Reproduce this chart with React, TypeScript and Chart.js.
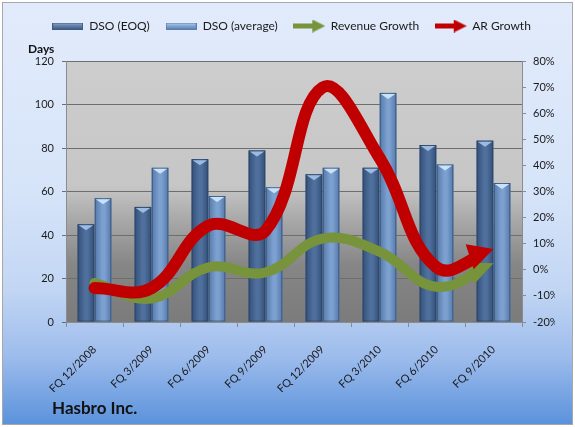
import React, { useEffect, useRef } from "react";
import { Chart, registerables } from "chart.js";

Chart.register(...registerables);

const categories = [
  "FQ 12/2008",
  "FQ 3/2009",
  "FQ 6/2009",
  "FQ 9/2009",
  "FQ 12/2009",
  "FQ 3/2010",
  "FQ 6/2010",
  "FQ 9/2010",
];
const dsoEOQ = [45, 53, 75, 79, 68, 71, 81.5, 83.5];
const dsoAverage = [57, 71, 58, 62, 71, 105.5, 72.5, 64];
const revenueGrowth = [-5, -11, 1, -1, 12, 7, -6.5, 2.5];
const arGrowth = [-7, -7, 17, 15, 70, 43, 1, 8];

const seriesLabels = ["DSO (EOQ)", "DSO (average)", "Revenue Growth", "AR Growth"];
const leftTitle = "Days";
const companyName = "Hasbro Inc.";

const FONT = "Lato, 'Open Sans', sans-serif";
const RED = "#c00000";
const GREEN = "#77933c";

function makeBarIcon(edge: string, mid: string, light: string) {
  const c = document.createElement("canvas");
  c.width = 31;
  c.height = 7;
  const g = c.getContext("2d")!;
  const gr = g.createLinearGradient(0, 0, 0, 7);
  gr.addColorStop(0, light);
  gr.addColorStop(0.35, mid);
  gr.addColorStop(1, edge);
  g.fillStyle = gr;
  g.fillRect(0, 0, 31, 7);
  g.strokeStyle = edge;
  g.lineWidth = 1;
  g.strokeRect(0.5, 0.5, 30, 6);
  return c;
}

function makeArrowIcon(color: string) {
  const c = document.createElement("canvas");
  c.width = 32;
  c.height = 13;
  const g = c.getContext("2d")!;
  g.fillStyle = color;
  g.fillRect(0, 4, 21, 5);
  g.beginPath();
  g.moveTo(19, 0);
  g.lineTo(32, 6.5);
  g.lineTo(19, 13);
  g.closePath();
  g.fill();
  return c;
}

const barStyles: Record<number, { edge: string; mid: string; cap: string }> = {
  0: { edge: "#334f78", mid: "#4f709d", cap: "#9dbbe0" },
  1: { edge: "#5479aa", mid: "#7ca1d0", cap: "#c8e2f8" },
};

const plotBackground = {
  id: "plotBackground",
  beforeDraw(chart: any) {
    const { ctx, chartArea: a } = chart;
    const gr = ctx.createLinearGradient(0, a.top, 0, a.bottom);
    gr.addColorStop(0, "#cdcdcd");
    gr.addColorStop(0.48, "#c6c6c6");
    gr.addColorStop(0.6, "#aaaaaa");
    gr.addColorStop(0.78, "#868686");
    gr.addColorStop(1, "#7b7b7b");
    ctx.save();
    ctx.fillStyle = gr;
    ctx.fillRect(a.left, a.top, a.right - a.left, a.bottom - a.top);
    ctx.restore();
  },
};

const barShading = {
  id: "barShading",
  afterDatasetDraw(chart: any, args: any) {
    const st = barStyles[args.index];
    if (!st) return;
    const ctx = chart.ctx;
    ctx.save();
    for (const el of args.meta.data) {
      const { x, y, base, width } = el.getProps(["x", "y", "base", "width"], true);
      const l = x - width / 2;
      const r = x + width / 2;
      const gr = ctx.createLinearGradient(l, 0, r, 0);
      gr.addColorStop(0, st.edge);
      gr.addColorStop(0.45, st.mid);
      gr.addColorStop(0.6, st.mid);
      gr.addColorStop(1, st.edge);
      ctx.fillStyle = gr;
      ctx.fillRect(l, y, width, base - y);
      ctx.strokeStyle = "rgba(40,60,90,0.55)";
      ctx.lineWidth = 1;
      ctx.strokeRect(l + 0.5, y + 0.5, width - 1, base - y - 1);
      ctx.beginPath();
      ctx.moveTo(l + 1, y + 1);
      ctx.lineTo(r - 1, y + 1);
      ctx.lineTo(x, y + 6);
      ctx.closePath();
      ctx.fillStyle = st.cap;
      ctx.fill();
    }
    ctx.restore();
  },
};

const ARROW_LEN = 25;

function arrowDir(pts: any[]) {
  const p = pts[pts.length - 1];
  const q = pts[pts.length - 2];
  let dx = p.x - (p.cp1x ?? q.x);
  let dy = p.y - (p.cp1y ?? q.y);
  if (Math.abs(dx) + Math.abs(dy) < 0.01) {
    dx = p.x - q.x;
    dy = p.y - q.y;
  }
  const len = Math.hypot(dx, dy) || 1;
  return { p, ux: dx / len, uy: dy / len };
}

const arrowHeads = {
  id: "arrowHeads",
  beforeDatasetDraw(chart: any, args: any) {
    const ds = chart.data.datasets[args.index];
    if (ds.type !== "line") return;
    const { p, ux } = arrowDir(args.meta.data);
    const cut = p.x - ux * (ARROW_LEN * 0.55);
    const ctx = chart.ctx;
    ctx.save();
    ctx.beginPath();
    ctx.rect(0, 0, cut, chart.height);
    ctx.clip();
  },
  afterDatasetDraw(chart: any, args: any) {
    const ds = chart.data.datasets[args.index];
    if (ds.type !== "line") return;
    const ctx = chart.ctx;
    ctx.restore();
    const { p, ux, uy } = arrowDir(args.meta.data);
    const W = ds.borderWidth * 1.6 + 7;
    const tipX = p.x;
    const tipY = p.y;
    const bx = tipX - ux * ARROW_LEN;
    const by = tipY - uy * ARROW_LEN;
    ctx.save();
    ctx.fillStyle = ds.borderColor;
    ctx.beginPath();
    ctx.moveTo(tipX, tipY);
    ctx.lineTo(bx - (uy * W) / 2, by + (ux * W) / 2);
    ctx.lineTo(bx + (uy * W) / 2, by - (ux * W) / 2);
    ctx.closePath();
    ctx.fill();
    ctx.restore();
  },
};

export default function App() {
  const ref = useRef<HTMLCanvasElement>(null);

  useEffect(() => {
    const canvas = ref.current!;
    const icons = [
      makeBarIcon("#3c5b86", "#6d89b1", "#a9c0dd"),
      makeBarIcon("#5a7fb0", "#8fb0da", "#d3e6f8"),
      makeArrowIcon(GREEN),
      makeArrowIcon(RED),
    ];
    const tickFont = { family: FONT, size: 11 };
    const chart = new Chart(canvas, {
      data: {
        labels: categories,
        datasets: [
          {
            type: "bar",
            label: seriesLabels[0],
            data: dsoEOQ,
            backgroundColor: "#46668f",
            yAxisID: "y",
            order: 5,
            barPercentage: 0.97,
            categoryPercentage: 0.6,
          },
          {
            type: "bar",
            label: seriesLabels[1],
            data: dsoAverage,
            backgroundColor: "#6a8fbe",
            yAxisID: "y",
            order: 6,
            barPercentage: 0.97,
            categoryPercentage: 0.6,
          },
          {
            type: "line",
            label: seriesLabels[2],
            data: revenueGrowth,
            borderColor: GREEN,
            backgroundColor: GREEN,
            borderWidth: 10,
            tension: 0.4,
            pointRadius: 0,
            borderCapStyle: "round",
            borderJoinStyle: "round",
            yAxisID: "y1",
            order: 2,
            clip: false as any,
          },
          {
            type: "line",
            label: seriesLabels[3],
            data: arGrowth,
            borderColor: RED,
            backgroundColor: RED,
            borderWidth: 12,
            tension: 0.4,
            pointRadius: 0,
            borderCapStyle: "round",
            borderJoinStyle: "round",
            yAxisID: "y1",
            order: 1,
            clip: false as any,
          },
        ] as any,
      },
      options: {
        responsive: false,
        animation: false,
        layout: { padding: { left: 28, right: 20, top: 4, bottom: 35 } },
        plugins: {
          legend: {
            position: "top",
            labels: {
              usePointStyle: true,
              pointStyleWidth: 31,
              padding: 16,
              color: "#1a1a1a",
              font: { family: FONT, size: 12 },
              generateLabels: (ch: any) =>
                ch.data.datasets.map((d: any, i: number) => ({
                  text: d.label,
                  pointStyle: icons[i],
                  fillStyle: "rgba(0,0,0,0)",
                  strokeStyle: "rgba(0,0,0,0)",
                  lineWidth: 0,
                  hidden: false,
                  datasetIndex: i,
                  fontColor: "#1a1a1a",
                })),
            },
          },
          title: {
            display: true,
            text: leftTitle,
            align: "start",
            weight: 500,
            color: "#111",
            font: { family: FONT, size: 12, weight: "bold" },
            padding: { top: 0, bottom: 5 },
          } as any,
          tooltip: { enabled: false },
        },
        scales: {
          x: {
            offset: true,
            grid: {
              display: true,
              drawOnChartArea: false,
              drawTicks: true,
              tickLength: 5,
              color: "#8c8c8c",
              offset: true,
            },
            border: { display: true, color: "#8c8c8c" },
            ticks: {
              font: tickFont,
              color: "#1a1a1a",
              minRotation: 45,
              maxRotation: 45,
              autoSkip: false,
              padding: 16,
            },
            afterFit: (s: any) => {
              s.height = 70;
            },
          },
          y: {
            position: "left",
            min: 0,
            max: 120,
            ticks: { stepSize: 20, font: tickFont, color: "#1a1a1a", padding: 8 },
            grid: { color: "#6e6e6e", tickLength: 4, drawTicks: true },
            border: { color: "#8c8c8c" },
            afterFit: (s: any) => {
              s.width = 38;
            },
          },
          y1: {
            position: "right",
            min: -20,
            max: 80,
            ticks: {
              stepSize: 10,
              font: tickFont,
              color: "#1a1a1a",
              padding: 7,
              callback: (v: any) => v + "%",
            },
            grid: { drawOnChartArea: false, tickLength: 4, color: "#8c8c8c" },
            border: { color: "#8c8c8c" },
            afterFit: (s: any) => {
              s.width = 33;
            },
          },
        },
      } as any,
      plugins: [plotBackground, barShading, arrowHeads],
    });
    return () => chart.destroy();
  }, []);

  return (
    <div
      style={{
        position: "fixed",
        left: 0,
        top: 0,
        width: 575,
        height: 427,
        background: "#ffffff",
        overflow: "hidden",
      }}
    >
      <div
        style={{
          position: "absolute",
          left: 2,
          top: 2,
          width: 569,
          height: 421,
          border: "1px solid #a8a8a8",
          background:
            "linear-gradient(to bottom, #e2ebfb 0%, #d6e4f9 45%, #c2d6f4 68%, #9dbcec 84%, #5b92dc 100%)",
        }}
      />
      <canvas
        ref={ref}
        width={575}
        height={427}
        style={{ position: "absolute", left: 0, top: 0, width: 575, height: 427 }}
      />
      <div
        style={{
          position: "absolute",
          left: 52,
          top: 398,
          font: `bold 17px ${FONT}`,
          lineHeight: "20px",
          color: "#111",
          whiteSpace: "nowrap",
        }}
      >
        {companyName}
      </div>
    </div>
  );
}
